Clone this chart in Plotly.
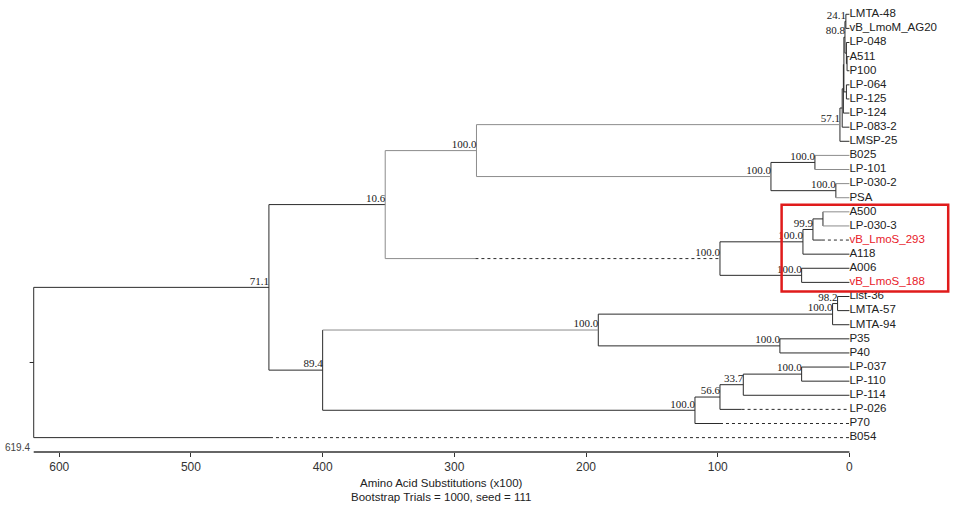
import plotly.graph_objects as go

# tips, top to bottom
leaf_names = [
    "LMTA-48", "vB_LmoM_AG20", "LP-048", "A511", "P100", "LP-064", "LP-125",
    "LP-124", "LP-083-2", "LMSP-25", "B025", "LP-101", "LP-030-2", "PSA",
    "A500", "LP-030-3", "vB_LmoS_293", "A118", "A006", "vB_LmoS_188",
    "List-36", "LMTA-57", "LMTA-94", "P35", "P40", "LP-037", "LP-110",
    "LP-114", "LP-026", "P70", "B054",
]
red_leaves = ["vB_LmoS_293", "vB_LmoS_188"]

# internal nodes, children before parents
node_names = [
    "n24", "nG", "nF", "n80", "nE", "nC", "nB", "nA", "n57",
    "nBL", "nLP", "nB025", "nTop",
    "nAL", "n999", "nA118", "nA006", "nRed", "n10",
    "n982", "nLMTA", "nP35", "nBig",
    "nLP037", "n337", "n566", "nP70", "n894", "n711", "root",
]
node_children = [
    ["LMTA-48", "vB_LmoM_AG20"], ["A511", "P100"], ["LP-048", "nG"], ["n24", "nF"],
    ["LP-064", "LP-125"], ["n80", "nE"], ["nC", "LP-124"], ["nB", "LP-083-2"],
    ["nA", "LMSP-25"],
    ["B025", "LP-101"], ["LP-030-2", "PSA"], ["nBL", "nLP"], ["n57", "nB025"],
    ["A500", "LP-030-3"], ["nAL", "vB_LmoS_293"], ["n999", "A118"],
    ["A006", "vB_LmoS_188"], ["nA118", "nA006"], ["nTop", "nRed"],
    ["List-36", "LMTA-57"], ["n982", "LMTA-94"], ["P35", "P40"], ["nLMTA", "nP35"],
    ["LP-037", "LP-110"], ["nLP037", "LP-114"], ["n337", "LP-026"], ["n566", "P70"],
    ["nBig", "nP70"], ["n10", "n894"], ["n711", "B054"],
]
node_heights = [
    2.7, 1.8, 2.3, 3.4, 2.3, 4.2, 4.6, 5.5, 7.2,
    26.2, 10.3, 59.6, 283.2,
    20.1, 27.7, 35.3, 36.3, 98.3, 352.5,
    9.0, 12.8, 52.8, 190.7,
    36.3, 80.6, 98.3, 117.3, 400.0, 440.8, 619.4,
]
node_support = [
    "24.1", "", "", "80.8", "", "", "", "", "57.1",
    "100.0", "100.0", "100.0", "100.0",
    "", "99.9", "100.0", "100.0", "100.0", "10.6",
    "98.2", "100.0", "100.0", "100.0",
    "100.0", "33.7", "56.6", "100.0", "89.4", "71.1", "",
]

# branches that turn dotted from this height out to the child
dotted_child = ["nRed", "vB_LmoS_293", "LP-026", "P70", "B054"]
dotted_start = [284.0, 20.9, 81.9, 98.3, 440.0]

axis_ticks = [0, 100, 200, 300, 400, 500, 600]
root_stub = 622.5

DARK = "#2b2b2b"
GRAY = "#8c8c8c"
gray_nodes = {"n10", "nTop"}
gray_branches = {"B025", "LP-101", "LP-030-2", "PSA", "A500", "LP-030-3", "nBig"}

ypos = {n: float(i) for i, n in enumerate(leaf_names)}
xpos = {n: 0.0 for n in leaf_names}
for name, kids, h in zip(node_names, node_children, node_heights):
    ypos[name] = (ypos[kids[0]] + ypos[kids[-1]]) / 2
    xpos[name] = h
dotted = dict(zip(dotted_child, dotted_start))

segs = {"dark": ([], []), "gray": ([], []), "dot": ([], [])}


def add(key, x0, x1, y0, y1):
    xs, ys = segs[key]
    xs += [x0, x1, None]
    ys += [y0, y1, None]


for name, kids in zip(node_names, node_children):
    px = xpos[name]
    add("gray" if name in gray_nodes else "dark", px, px, ypos[kids[0]], ypos[kids[-1]])
    for k in kids:
        key = "gray" if (name in gray_nodes or k in gray_branches) else "dark"
        y = ypos[k]
        if k in dotted:
            add(key, px, dotted[k], y, y)
            add("dot", dotted[k], xpos[k], y, y)
        else:
            add(key, px, xpos[k], y, y)
add("dark", root_stub, xpos["root"], ypos["root"], ypos["root"])

fig = go.Figure()
styles = {"dark": (DARK, "solid"), "gray": (GRAY, "solid"), "dot": (DARK, "dot")}
for key, (xs, ys) in segs.items():
    color, dash = styles[key]
    fig.add_trace(go.Scatter(
        x=xs, y=ys, mode="lines", line=dict(color=color, width=1, dash=dash),
        hoverinfo="skip", showlegend=False,
    ))

black = [n for n in leaf_names if n not in red_leaves]
fig.add_trace(go.Scatter(
    x=[xpos[n] for n in black], y=[ypos[n] for n in black], text=black,
    mode="text", textposition="middle right",
    textfont=dict(family="Liberation Sans", size=11.5, color="#222"),
    hoverinfo="skip", showlegend=False, cliponaxis=False,
))
fig.add_trace(go.Scatter(
    x=[xpos[n] for n in red_leaves], y=[ypos[n] for n in red_leaves], text=red_leaves,
    mode="text", textposition="middle right",
    textfont=dict(family="Liberation Sans", size=11.5, color="#e8202a"),
    hoverinfo="skip", showlegend=False, cliponaxis=False,
))

sup = [(n, s) for n, s in zip(node_names, node_support) if s]
fig.add_trace(go.Scatter(
    x=[xpos[n] for n, _ in sup], y=[ypos[n] for n, _ in sup], text=[s for _, s in sup],
    mode="text", textposition="top left",
    textfont=dict(family="Liberation Serif", size=11, color="#1a1a1a"),
    hoverinfo="skip", showlegend=False, cliponaxis=False,
))

# red box round the two vB_LmoS phages and their relatives
fig.add_shape(
    type="rect", xref="x", yref="y",
    x0=51.5, x1=-75.0,
    y0=ypos["A500"] - 0.5, y1=ypos["vB_LmoS_188"] + 0.65,
    line=dict(color="#e01b1b", width=2.5),
)
# scale bar line
fig.add_shape(
    type="line", xref="x", yref="paper", x0=xpos["root"], x1=0, y0=0, y1=0,
    line=dict(color="#333", width=1.5),
)
fig.add_annotation(
    x=xpos["root"], y=0, xref="x", yref="paper", text="619.4", showarrow=False,
    xanchor="right", yanchor="middle", xshift=-2, yshift=5,
    font=dict(family="Liberation Sans", size=10, color="#444"),
)
mid = xpos["root"] / 2
fig.add_annotation(
    x=mid, y=0, xref="x", yref="paper", text="Amino Acid Substitutions (x100)",
    showarrow=False, yanchor="middle", yshift=-31,
    font=dict(family="Liberation Sans", size=11.5, color="#222"),
)
fig.add_annotation(
    x=mid, y=0, xref="x", yref="paper", text="Bootstrap Trials = 1000, seed = 111",
    showarrow=False, yanchor="middle", yshift=-45,
    font=dict(family="Liberation Sans", size=11.5, color="#222"),
)

fig.update_layout(
    width=954, height=507,
    margin=dict(l=0, r=0, t=0, b=55),
    plot_bgcolor="white", paper_bgcolor="white",
    hovermode=False,
    xaxis=dict(
        range=[645.0, -79.4], tickvals=axis_ticks, ticks="outside", ticklen=4,
        tickcolor="#333", showline=False, showgrid=False, zeroline=False,
        tickfont=dict(family="Liberation Sans", size=12, color="#333"),
        fixedrange=True,
    ),
    yaxis=dict(
        range=[31.02, -1.013], visible=False, showgrid=False, zeroline=False,
        fixedrange=True,
    ),
)

# page body has a default 8px margin; drop it so the figure sits at 0,0
fig.write_html(
    "out.html",
    config={"displayModeBar": False},
    post_script="document.body.style.margin = '0';",
)
